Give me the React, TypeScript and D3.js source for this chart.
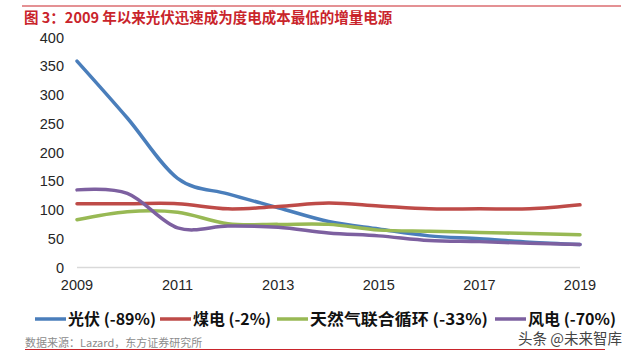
import React from "react";
import * as d3 from "d3";

const years = [2009, 2010, 2011, 2012, 2013, 2014, 2015, 2016, 2017, 2018, 2019];
const xTicks = [2009, 2011, 2013, 2015, 2017, 2019];
const yTicks = [0, 50, 100, 150, 200, 250, 300, 350, 400];

const solar = [359, 260, 155, 128, 104, 80, 67, 55, 50, 44, 40];
const coal = [111, 111, 111, 102, 106, 112, 107, 102, 102, 102, 109];
const gas = [83, 97, 96, 76, 75, 75, 65, 63, 61, 59, 57];
const wind = [135, 129, 69, 72, 70, 60, 55, 47, 45, 42, 40];

const seriesNames = ["光伏 (-89%)", "煤电 (-2%)", "天然气联合循环 (-33%)", "风电 (-70%)"];
const seriesColors = ["#4a7ebb", "#be4b48", "#98b954", "#7d60a0"];

const title = "图 3：2009 年以来光伏迅速成为度电成本最低的增量电源";
const source = "数据来源：Lazard，东方证券研究所";
const watermark = "头条 @未来智库";

export default function App() {
  const W = 640, H = 356;
  const x = d3.scaleLinear().domain([2009, 2019]).range([77, 580]);
  const y = d3.scaleLinear().domain([0, 400]).range([267.5, 37.5]);
  const line = d3
    .line<number>()
    .x((_, i) => x(years[i]))
    .y((d) => y(d))
    .curve(d3.curveCardinal.tension(0));
  const all = [solar, coal, gas, wind];
  const legendX = [35, 160, 277, 495];
  const legendW = [88, 78, 178, 88];
  const font = "'Liberation Sans', Arial, sans-serif";
  const cjk = "'Noto Sans CJK SC', 'Liberation Sans', sans-serif";
  return (
    <svg width={W} height={H} style={{ position: "absolute", left: 0, top: 0, background: "#fff" }}>
      <line x1={22} x2={621} y1={6} y2={6} stroke="#c9242b" strokeWidth={1.2} />
      <text x={24} y={23} fontFamily={cjk} fontSize={14.5} fontWeight="bold" fill="#c9242b">
        {title}
      </text>
      <line x1={x(2009)} x2={x(2019)} y1={y(0)} y2={y(0)} stroke="#d9d9d9" strokeWidth={1.5} />
      {yTicks.map((t) => (
        <text key={t} x={64} y={y(t)} dy="0.35em" textAnchor="end" fontFamily={font} fontSize={14.5} fill="#262626">
          {t}
        </text>
      ))}
      {xTicks.map((t) => (
        <text key={t} x={x(t)} y={285} dy="0.35em" textAnchor="middle" fontFamily={font} fontSize={14.5} fill="#262626">
          {t}
        </text>
      ))}
      {all.map((s, i) => (
        <path key={i} d={line(s) || ""} fill="none" stroke={seriesColors[i]} strokeWidth={3.5} strokeLinecap="round" />
      ))}
      {seriesNames.map((n, i) => (
        <g key={n}>
          <line x1={legendX[i]} x2={legendX[i] + 31} y1={319} y2={319} stroke={seriesColors[i]} strokeWidth={3.5} />
          <text
            x={legendX[i] + 33}
            y={319}
            dy="0.36em"
            fontFamily={cjk}
            fontSize={15.5}
            fontWeight="bold"
            fill="#111"
            textLength={legendW[i]}
            lengthAdjust="spacingAndGlyphs"
          >
            {n}
          </text>
        </g>
      ))}
      <text x={25} y={343} dy="0.35em" fontFamily={cjk} fontSize={11} fill="#8c8c8c">
        {source}
      </text>
      <text x={622} y={339} dy="0.35em" textAnchor="end" fontFamily={cjk} fontSize={14.5} fill="#444">
        {watermark}
      </text>
      <line x1={25} x2={605} y1={349.5} y2={349.5} stroke="#c9242b" strokeWidth={1} />
    </svg>
  );
}
